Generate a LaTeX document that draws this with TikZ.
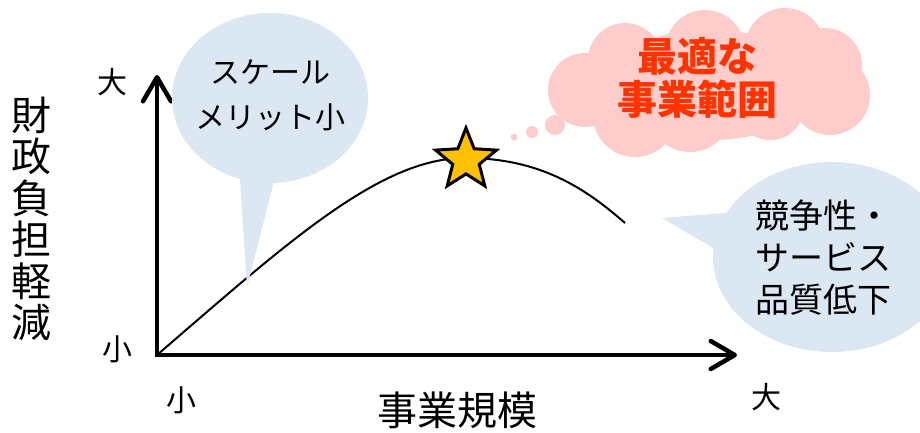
\documentclass[tikz,border=0pt]{standalone}
\usepackage{fontspec}
\setmainfont{Noto Sans CJK JP}
\usetikzlibrary{arrows.meta,shapes.geometric}
\definecolor{bubbleblue}{HTML}{DCE7F4}
\definecolor{cloudpink}{HTML}{FFCCCC}
\definecolor{redtext}{HTML}{FF3300}
\definecolor{stargold}{HTML}{FFC000}
\tikzset{
  axisline/.style={line width=4.5pt, line join=miter,
    {Straight Barb[length=24pt,width=28pt,line cap=round,line join=round]}-{Straight Barb[length=24pt,width=28pt,line cap=round,line join=round]}},
  curveline/.style={line width=2pt},
  ticklabel/.style={font=\fontsize{30pt}{32pt}\selectfont, inner sep=0pt},
  bubbletext/.style={align=center, inner sep=0pt},
  bubblefill/.style={fill=bubbleblue, draw=none},
  cloudfill/.style={fill=cloudpink, draw=none},
}
\begin{document}
\begin{tikzpicture}[x=1pt,y=-1pt]
\useasboundingbox (0,0) rectangle (920,432);
\clip (0,0) rectangle (920,432);
% axes
\coordinate (O) at (157,355);
\coordinate (Ytip) at (157,75);
\coordinate (Xtip) at (737,355);
\coordinate (C0) at (157,355);
\coordinate (Cpeak) at (465,158);
\coordinate (Cend) at (625,223);
% curve
\draw[curveline] (C0) .. controls (287,243) and (380,158) .. (Cpeak)
  .. controls (540,158) and (585,188) .. (Cend);
\draw[axisline] (Ytip) -- (O) -- (Xtip);
% left speech bubble
\fill[bubblefill] (270,98) ellipse [x radius=98pt, y radius=85pt];
\fill[bubblefill] (238,150) -- (247,287) -- (282,150) -- cycle;
\node[bubbletext, font=\fontsize{30pt}{45pt}\selectfont] (scale) at (270,95) {スケール\\メリット小};
% right speech bubble
\fill[bubblefill] (832,257) ellipse [x radius=119pt, y radius=95pt];
\fill[bubblefill] (662,218) -- (760,210) -- (747,268) -- cycle;
\node[bubbletext, font=\fontsize{34pt}{42pt}\selectfont] (comp) at (823,258) {競争性・\\サービス\\品質低下};
% thought cloud
\fill[cloudfill] (514,137) circle [radius=3.5pt];
\fill[cloudfill] (532,132) circle [radius=6pt];
\fill[cloudfill] (555,125) circle [radius=10pt];
\fill[cloudfill] (710,85) ellipse [x radius=110pt, y radius=55pt];
\fill[cloudfill] (585,90) circle [radius=37pt];
\fill[cloudfill] (625,60) circle [radius=37pt];
\fill[cloudfill] (705,50) circle [radius=40pt];
\fill[cloudfill] (785,48) circle [radius=40pt];
\fill[cloudfill] (825,65) circle [radius=37pt];
\fill[cloudfill] (830,95) circle [radius=40pt];
\fill[cloudfill] (770,105) circle [radius=35pt];
\fill[cloudfill] (690,110) circle [radius=42pt];
\fill[cloudfill] (635,115) circle [radius=42pt];
\node[bubbletext, text=redtext, font=\fontsize{40pt}{43pt}\selectfont\bfseries] (best) at (697,78) {最適な\\事業範囲};
% star
\node[star, star points=5, star point ratio=2.3, minimum size=64pt, inner sep=0pt,
  fill=stargold, draw=black, line width=3pt, line join=miter] (star) at (466,160) {};
% labels
\node[ticklabel] (ybig) at (112,82) {大};
\node[ticklabel] (ysmall) at (117,349) {小};
\node[ticklabel] (xsmall) at (181,400) {小};
\node[ticklabel] (xbig) at (766,397) {大};
\node[font=\fontsize{40pt}{40pt}\selectfont, inner sep=0pt] (xlabel) at (457,410) {事業規模};
\node[align=center, inner sep=0pt, font=\fontsize{40pt}{41.5pt}\selectfont] (ylabel) at (32,219) {財\\政\\負\\担\\軽\\減};
\end{tikzpicture}
\end{document}
